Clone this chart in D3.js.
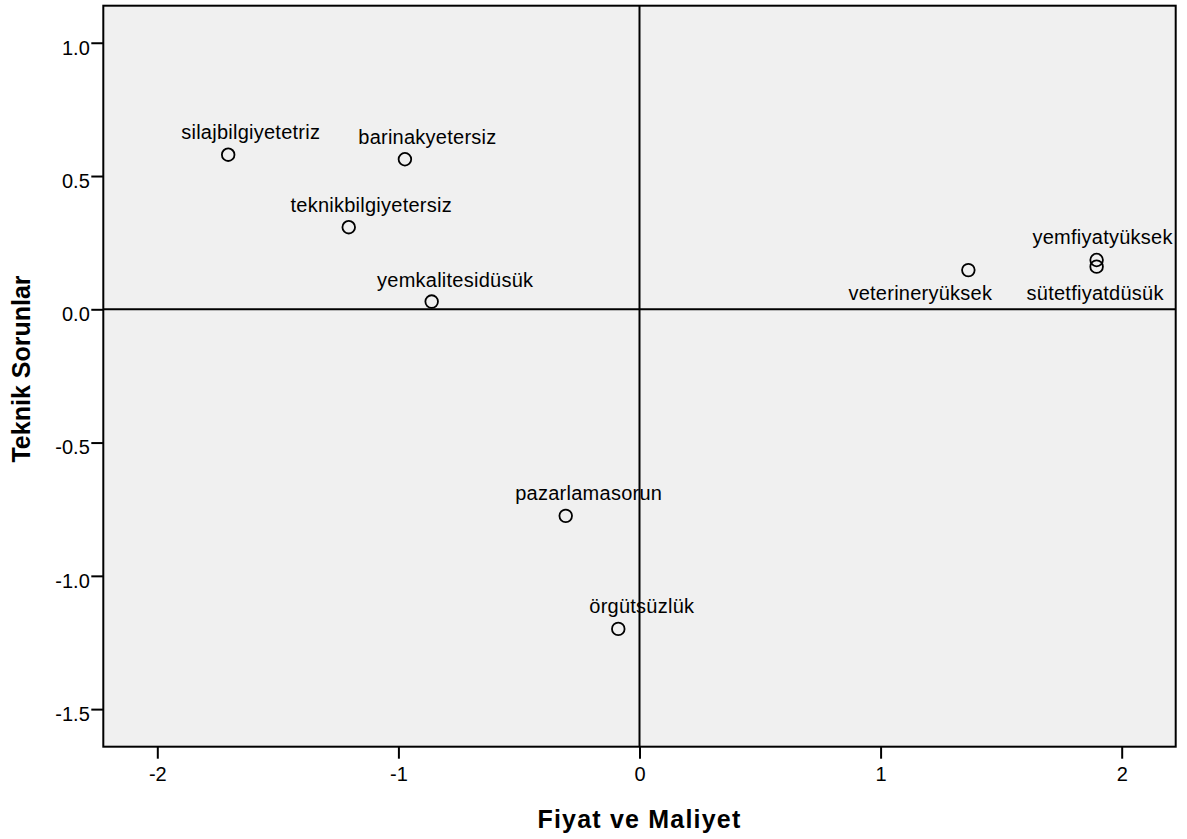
<!DOCTYPE html>
<html>
<head>
<meta charset="utf-8">
<script src="https://cdn.jsdelivr.net/npm/d3@7/dist/d3.min.js"></script>
<style>
  html, body { margin: 0; padding: 0; background: #ffffff; }
  svg { display: block; }
</style>
</head>
<body>
<svg id="chart" width="1187" height="839"></svg>
<script>
// ---- data ----
const labels = ["silajbilgiyetetriz", "barinakyetersiz", "teknikbilgiyetersiz", "yemkalitesidüsük",
                "veterineryüksek", "yemfiyatyüksek", "sütetfiyatdüsük", "pazarlamasorun", "örgütsüzlük"];
const fiyatMaliyet = [-1.706, -0.973, -1.206, -0.862, 1.364, 1.896, 1.896, -0.306, -0.088];
const teknikSorunlar = [0.580, 0.563, 0.308, 0.029, 0.147, 0.185, 0.160, -0.775, -1.199];
const xTicks = [-2, -1, 0, 1, 2];
const xTickLabels = ["-2", "-1", "0", "1", "2"];
const yTicks = [1.0, 0.5, 0.0, -0.5, -1.0, -1.5];
const yTickLabels = ["1.0", "0.5", "0.0", "-0.5", "-1.0", "-1.5"];
const xTitle = "Fiyat ve Maliyet";
const yTitle = "Teknik Sorunlar";

// ---- label placement (layout, not data) ----
const labelPlacement = {
  "silajbilgiyetetriz": { dx: 22.5, dy: -15.5 },
  "barinakyetersiz": { dx: 22.5, dy: -15.5 },
  "teknikbilgiyetersiz": { dx: 22.5, dy: -15.5 },
  "yemkalitesidüsük": { dx: 23.5, dy: -14.5 },
  "veterineryüksek": { dx: -48, dy: 30 },
  "yemfiyatyüksek": { dx: 6, dy: -16 },
  "sütetfiyatdüsük": { dx: -1.5, dy: 33 },
  "pazarlamasorun": { dx: 23, dy: -15.5 },
  "örgütsüzlük": { dx: 23.5, dy: -15.5 }
};

// ---- layout ----
const plot = { left: 103.3, right: 1175.7, top: 5.7, bottom: 746.7 };
const svg = d3.select("#chart");
const font = "'Liberation Sans', Arial, Helvetica, sans-serif";

const x = d3.scaleLinear().domain([-2.224, 2.224]).range([plot.left, plot.right]);
const y = d3.scaleLinear().domain([-1.641, 1.139]).range([plot.bottom, plot.top]);

svg.append("rect").attr("width", 1187).attr("height", 839).attr("fill", "#ffffff");

// plot background
svg.append("rect")
  .attr("x", plot.left).attr("y", plot.top)
  .attr("width", plot.right - plot.left).attr("height", plot.bottom - plot.top)
  .attr("fill", "#f0f0f0");

// reference lines at 0
svg.append("line")
  .attr("x1", x(0)).attr("x2", x(0)).attr("y1", plot.top).attr("y2", plot.bottom)
  .attr("stroke", "#000").attr("stroke-width", 2);
svg.append("line")
  .attr("x1", plot.left).attr("x2", plot.right).attr("y1", y(0)).attr("y2", y(0))
  .attr("stroke", "#000").attr("stroke-width", 2);

// axes
const xAxis = d3.axisBottom(x).tickValues(xTicks)
  .tickFormat((d, i) => xTickLabels[i]).tickSize(12).tickSizeOuter(0).tickPadding(10);
const gx = svg.append("g").attr("transform", `translate(0,${plot.bottom})`).call(xAxis);
gx.select(".domain").remove();
gx.selectAll(".tick line").attr("stroke", "#000").attr("stroke-width", 2);
gx.selectAll(".tick text")
  .attr("font-family", font).attr("font-size", 20).attr("fill", "#000")
  .attr("dy", null).attr("y", 34);

const yAxis = d3.axisLeft(y).tickValues(yTicks)
  .tickFormat((d, i) => yTickLabels[i]).tickSize(12).tickSizeOuter(0).tickPadding(2);
const gy = svg.append("g").attr("transform", `translate(${plot.left},0)`).call(yAxis);
gy.select(".domain").remove();
gy.selectAll(".tick line").attr("stroke", "#000").attr("stroke-width", 2);
gy.selectAll(".tick text")
  .attr("font-family", font).attr("font-size", 20).attr("fill", "#000")
  .attr("dy", null).attr("y", 11.3).attr("x", -13.5);

// frame
svg.append("rect")
  .attr("x", plot.left).attr("y", plot.top)
  .attr("width", plot.right - plot.left).attr("height", plot.bottom - plot.top)
  .attr("fill", "none").attr("stroke", "#000").attr("stroke-width", 2);

// points
const pts = labels.map((l, i) => ({ label: l, fx: fiyatMaliyet[i], ty: teknikSorunlar[i] }));
svg.append("g").selectAll("circle").data(pts).join("circle")
  .attr("cx", d => x(d.fx)).attr("cy", d => y(d.ty)).attr("r", 6.3)
  .attr("fill", "none").attr("stroke", "#000").attr("stroke-width", 1.8);

svg.append("g").selectAll("text").data(pts).join("text")
  .attr("x", d => x(d.fx) + labelPlacement[d.label].dx)
  .attr("y", d => y(d.ty) + labelPlacement[d.label].dy)
  .attr("text-anchor", "middle")
  .attr("font-family", font).attr("font-size", 20).attr("letter-spacing", "0.25px")
  .attr("fill", "#000")
  .text(d => d.label);

// titles
svg.append("text")
  .attr("x", (plot.left + plot.right) / 2).attr("y", 828)
  .attr("text-anchor", "middle")
  .attr("font-family", font).attr("font-size", 25).attr("font-weight", "bold")
  .attr("letter-spacing", "1.2px")
  .attr("fill", "#000").text(xTitle);

svg.append("text")
  .attr("transform", `translate(30,369) rotate(-90)`)
  .attr("text-anchor", "middle")
  .attr("font-family", font).attr("font-size", 25).attr("font-weight", "bold")
  .attr("fill", "#000").text(yTitle);
</script>
</body>
</html>
